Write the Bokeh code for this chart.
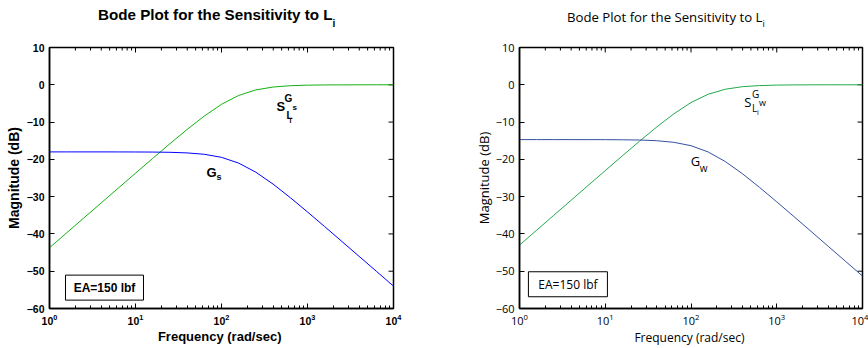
import math
from bokeh.plotting import figure
from bokeh.models import Label, FixedTicker, Range1d, Div
from bokeh.layouts import row, column
from bokeh.embed import file_html
from bokeh.resources import INLINE

# ---------------- data ----------------
freq = [1.0, 1.585, 2.512, 3.981, 6.310, 10.0, 15.85, 25.12, 39.81, 63.10,
        100.0, 158.5, 251.2, 398.1, 631.0, 1000.0, 1585.0, 2512.0, 3981.0, 6310.0, 10000.0]

# left panel
gs_db = [-18.00, -18.00, -18.00, -18.00, -18.01, -18.02, -18.04, -18.11, -18.27, -18.64,
         -19.46, -21.01, -23.45, -26.64, -30.27, -34.11, -38.04, -42.02, -46.01, -50.00, -54.00]
s_gs_db = [-43.70, -39.70, -35.70, -31.70, -27.71, -23.72, -19.75, -15.81, -11.98, -8.38,
           -5.24, -2.86, -1.37, -0.60, -0.25, -0.10, -0.04, -0.02, -0.01, 0.00, 0.00]

# right panel
gw_db = [-14.70, -14.70, -14.70, -14.70, -14.71, -14.72, -14.75, -14.82, -15.00, -15.43,
         -16.33, -18.02, -20.59, -23.86, -27.53, -31.39, -35.34, -39.32, -43.31, -47.30, -51.30]
s_gw_db = [-43.00, -39.00, -35.00, -31.00, -27.01, -23.02, -19.05, -15.13, -11.33, -7.79,
           -4.76, -2.54, -1.19, -0.51, -0.21, -0.09, -0.03, -0.01, 0.00, 0.00, 0.00]

x_min, x_max = 1, 10000
y_min, y_max = -60, 10
y_ticks = [-60, -50, -40, -30, -20, -10, 0, 10]
x_major = [1, 10, 100, 1000, 10000]
x_minor = [2, 3, 4, 5, 6, 7, 8, 9,
           20, 30, 40, 50, 60, 70, 80, 90,
           200, 300, 400, 500, 600, 700, 800, 900,
           2000, 3000, 4000, 5000, 6000, 7000, 8000, 9000]

title_main = "Bode Plot for the Sensitivity to L"
title_sub = "i"
x_label = "Frequency  (rad/sec)"
y_label = "Magnitude (dB)"
box_text = "EA=150 lbf"

TITLE_H = 30


def make_title(width, font, weight, size, sub_size, sub_drop, pad_left, pad_top):
    html = (f'<div style="margin:0;padding:{pad_top}px 0 0 {pad_left}px;'
            f'font-family:\'{font}\';font-weight:{weight};font-size:{size}px;'
            f'line-height:{size}px;color:black;white-space:nowrap;">'
            f'{title_main}<span style="font-size:{sub_size}px;vertical-align:-{sub_drop}px;">'
            f'{title_sub}</span></div>')
    return Div(text=html, width=width, height=TITLE_H, margin=0)


def make_panel(width, min_right, font, style, blue, green, g_db, s_db,
               tick_size, label_size_y, label_size_x, ylabel_standoff,
               ann, box_pos, box_size, box_w, box_h):
    p = figure(width=width, height=348 - TITLE_H, x_axis_type="log",
               x_range=Range1d(x_min, x_max), y_range=Range1d(y_min, y_max),
               output_backend="svg", toolbar_location=None,
               min_border_left=49, min_border_right=min_right,
               min_border_top=47 - TITLE_H, min_border_bottom=40)
    p.grid.visible = False
    p.outline_line_color = "black"
    p.outline_line_width = 1.5
    p.background_fill_color = "white"
    p.border_fill_color = "white"

    p.xaxis.ticker = FixedTicker(ticks=x_major, minor_ticks=x_minor)
    p.yaxis.ticker = FixedTicker(ticks=y_ticks, minor_ticks=[])
    for ax in (p.xaxis[0], p.yaxis[0]):
        ax.major_tick_in = 5
        ax.major_tick_out = 0
        ax.minor_tick_in = 3
        ax.minor_tick_out = 0
        ax.axis_line_width = 1.5
        ax.major_label_text_font = font
        ax.major_label_text_font_style = style
        ax.major_label_text_font_size = tick_size
        ax.major_label_text_color = "black"
        ax.axis_label_text_font = font
        ax.axis_label_text_font_style = style
        ax.axis_label_text_color = "black"
    p.xaxis.axis_label = x_label
    p.yaxis.axis_label = y_label
    p.xaxis.axis_label_text_font_size = label_size_x
    p.yaxis.axis_label_text_font_size = label_size_y
    p.xaxis.major_label_standoff = 5
    p.xaxis.axis_label_standoff = 1
    p.yaxis.major_label_standoff = 5
    p.yaxis.axis_label_standoff = ylabel_standoff

    # mirrored tick marks on the top and right edges (clipped to the frame)
    p.scatter(x_major, [y_max] * len(x_major), marker="dash", angle=math.pi / 2,
              size=10, line_color="black", line_width=1)
    p.scatter(x_minor, [y_max] * len(x_minor), marker="dash", angle=math.pi / 2,
              size=6, line_color="black", line_width=1)
    p.scatter([x_max] * len(y_ticks), y_ticks, marker="dash",
              size=10, line_color="black", line_width=1)

    p.line(freq, s_db, line_color=green, line_width=1)
    p.line(freq, g_db, line_color=blue, line_width=1)

    for (x, y, t, fs) in ann:
        p.add_layout(Label(x=x, y=y, text=t, text_font=font, text_font_style=style,
                           text_font_size=fs, text_color="black",
                           text_align="left", text_baseline="alphabetic"))

    p.rect([box_pos[0]], [box_pos[1]], width=box_w, height=box_h,
           width_units="screen", height_units="screen",
           fill_color="white", line_color="black", line_width=1)
    p.add_layout(Label(x=box_pos[0], y=box_pos[1], text=box_text,
                       text_font=font, text_font_style=style, text_font_size=box_size,
                       text_color="black", text_align="center", text_baseline="middle"))
    return p


left_title = make_title(470, "Liberation Sans", "bold", 15.2, 10, 7, 98, 7)
right_title = make_title(398, "Open Sans", "normal", 13.2, 9, 5, 97, 11)

left = make_panel(
    470, 77, "Liberation Sans", "bold", "#0000ff", "#14b014", gs_db, s_gs_db,
    tick_size="10.5px", label_size_y="14px", label_size_x="13px", ylabel_standoff=2,
    ann=[(436, -5.85, "S", "13px"), (541, -3.7, "G", "10px"), (670, -6.1, "s", "8px"),
         (570, -8.25, "L", "10px"), (618, -9.45, "i", "7px"),
         (67.0, -23.45, "G", "13px"), (87.5, -24.85, "s", "9px")],
    box_pos=(4.36, -54.4), box_size="12px", box_w=78, box_h=25)

right = make_panel(
    398, 6, "Open Sans", "normal", "#3550a0", "#22aa4a", gw_db, s_gw_db,
    tick_size="11px", label_size_y="13px", label_size_x="12px", ylabel_standoff=0,
    ann=[(417, -4.55, "S", "13px"), (516, -2.35, "G", "10px"), (622, -4.7, "w", "9px"),
         (516, -6.35, "L", "10px"), (590, -7.45, "i", "7px"),
         (99.5, -20.55, "G", "13px"), (126.8, -22.45, "w", "10px")],
    box_pos=(3.67, -53.5), box_size="12px", box_w=79, box_h=25)

layout = column(row(left_title, right_title, spacing=0),
                row(left, right, spacing=0), spacing=0)
open("out.html", "w").write(file_html(layout, INLINE))
